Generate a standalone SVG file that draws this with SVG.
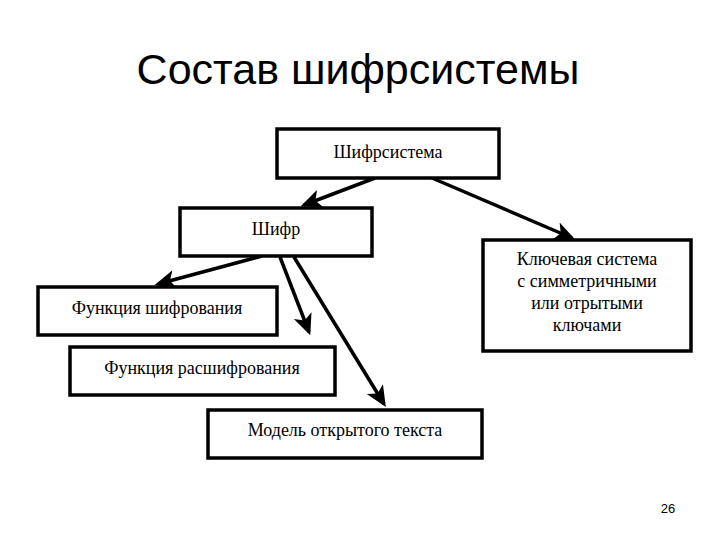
<svg xmlns="http://www.w3.org/2000/svg" width="720" height="540" viewBox="0 0 720 540">
<style>
.b{fill:#fff;stroke:#000;stroke-width:3.5}
.t{font-family:'Liberation Serif','DejaVu Serif',serif;font-size:18px;text-anchor:middle;fill:#000}
.c line{stroke:#000;stroke-width:3.5;marker-end:url(#a)}
</style>
<defs><marker id="a" markerWidth="6" markerHeight="6" refX="5" refY="3" orient="auto" markerUnits="strokeWidth"><path d="M0,0.3 L6,3 L0,5.7 L1.5,3 Z" fill="#000"/></marker></defs>
<rect width="720" height="540" fill="#fff"/>
<text x="358" y="84" font-family="'Liberation Sans',sans-serif" font-size="43" text-anchor="middle">Состав шифрсистемы</text>
<g class="c">
<line x1="375" y1="178" x2="304" y2="205"/>
<line x1="432" y1="178" x2="572" y2="238"/>
<line x1="262" y1="256" x2="158" y2="284"/>
<line x1="280" y1="257" x2="309" y2="332"/>
<line x1="294" y1="257" x2="384" y2="404"/>
</g>
<g id="n1"><rect class="b" x="277" y="129" width="222" height="49"/><text class="t" x="388" y="158">Шифрсистема</text></g>
<g id="n2"><rect class="b" x="180" y="208" width="192" height="48"/><text class="t" x="276" y="235">Шифр</text></g>
<g id="n3"><rect class="b" x="483" y="240" width="208" height="111"/>
<text class="t" x="587" y="265">Ключевая система</text><text class="t" x="587" y="287">с симметричными</text><text class="t" x="587" y="309">или отрытыми</text><text class="t" x="587" y="331">ключами</text></g>
<g id="n4"><rect class="b" x="38" y="287" width="239" height="48"/><text class="t" x="157" y="314">Функция шифрования</text></g>
<g id="n5"><rect class="b" x="70" y="347" width="265" height="48"/><text class="t" x="202" y="374">Функция расшифрования</text></g>
<g id="n6"><rect class="b" x="208" y="410" width="274" height="48"/><text class="t" x="345" y="436">Модель открытого текста</text></g>
<text x="668" y="513" font-family="'Liberation Sans',sans-serif" font-size="13" text-anchor="middle">26</text>
</svg>
